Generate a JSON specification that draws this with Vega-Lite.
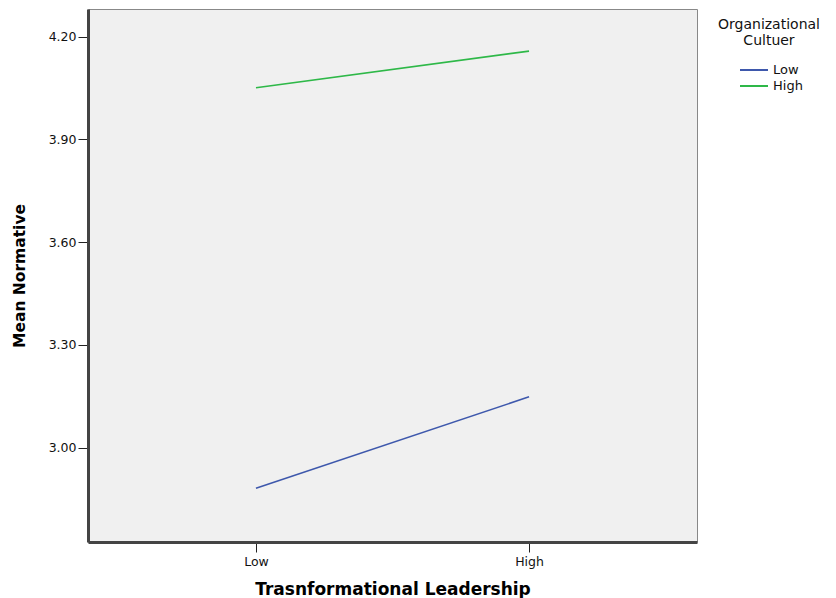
{
  "$schema": "https://vega.github.io/schema/vega-lite/v6.json",
  "width": 609,
  "height": 533,
  "autosize": "none",
  "padding": {"left": 88, "top": 9, "right": 139, "bottom": 56},
  "background": "white",
  "data": {"values": [
    {"tl": "Low", "oc": "Low", "mean": 2.881},
    {"tl": "High", "oc": "Low", "mean": 3.148},
    {"tl": "Low", "oc": "High", "mean": 4.051},
    {"tl": "High", "oc": "High", "mean": 4.158}
  ]},
  "mark": {"type": "line", "strokeWidth": 1.6},
  "encoding": {
    "x": {"field": "tl", "type": "ordinal", "sort": ["Low", "High"],
      "scale": {"type": "point", "padding": 0.615},
      "axis": {"title": "Trasnformational Leadership", "labelAngle": 0, "domainColor": "#444", "domainWidth": 3,
        "tickColor": "#222", "tickSize": 10, "labelFont": "DejaVu Sans", "labelFontSize": 12.5, "labelColor": "#111", "labelPadding": 3,
        "titleFont": "DejaVu Sans", "titleFontSize": 17, "titleFontWeight": "bold", "titleColor": "#000", "titlePadding": 14, "grid": false}},
    "y": {"field": "mean", "type": "quantitative",
      "scale": {"domain": [2.724, 4.281], "nice": false, "zero": false},
      "axis": {"title": "Mean Normative", "values": [3.0, 3.3, 3.6, 3.9, 4.2], "format": ".2f", "domainColor": "#444", "domainWidth": 3,
        "tickColor": "#222", "tickSize": 10, "labelFont": "DejaVu Sans", "labelFontSize": 12.5, "labelColor": "#111", "labelPadding": 2,
        "titleFont": "DejaVu Sans", "titleFontSize": 15.5, "titleFontWeight": "bold", "titleColor": "#000", "titlePadding": 21, "grid": false}},
    "color": {"field": "oc", "type": "nominal", "sort": ["Low", "High"],
      "scale": {"domain": ["Low", "High"], "range": ["#3E58AC", "#2EB848"]},
      "legend": {"title": ["Organizational", "Cultuer"], "orient": "none", "legendX": 630, "legendY": 9,
        "titleAnchor": "middle", "titleAlign": "center", "titleFont": "DejaVu Sans", "titleFontSize": 14, "titleFontWeight": "normal", "titleColor": "#111",
        "titleLineHeight": 16, "titlePadding": 14,
        "labelFont": "DejaVu Sans", "labelFontSize": 13, "labelColor": "#111",
        "symbolType": "M-2,0H2", "symbolSize": 196, "symbolStrokeWidth": 2, "symbolOffset": 11, "labelOffset": 11, "rowPadding": 1}}
  },
  "config": {"view": {"fill": "#F0F0F0", "stroke": "#888", "strokeWidth": 1}}
}
